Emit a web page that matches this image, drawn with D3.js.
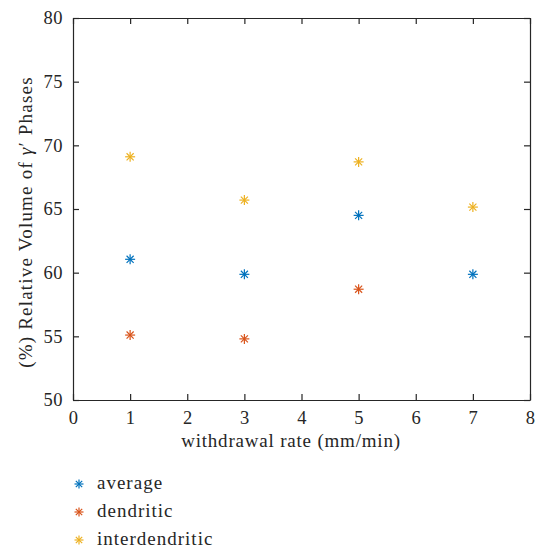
<!DOCTYPE html>
<html>
<head>
<meta charset="utf-8">
<script src="https://cdn.jsdelivr.net/npm/d3@7"></script>
<style>
  html, body { margin: 0; padding: 0; background: #fff; }
  svg { display: block; }
</style>
</head>
<body>
<svg id="chart" width="541" height="549"></svg>
<script>
// Withdrawal rate (mm/min) for each measurement
const rates = [1, 3, 5, 7];
const rateDendritic = [1, 3, 5];

// Relative volume of γ′ phases (%)
const average = [61.05, 59.87, 64.5, 59.87];
const dendritic = [55.1, 54.8, 58.7];
const interdendritic = [69.1, 65.7, 68.7, 65.15];

const xTicks = [0, 1, 2, 3, 4, 5, 6, 7, 8];
const yTicks = [50, 55, 60, 65, 70, 75, 80];

const seriesNames = ["average", "dendritic", "interdendritic"];
const seriesColors = ["#0072BD", "#D95319", "#EDB120"];

const series = [
  { name: seriesNames[0], color: seriesColors[0], xs: rates, ys: average },
  { name: seriesNames[1], color: seriesColors[1], xs: rateDendritic, ys: dendritic },
  { name: seriesNames[2], color: seriesColors[2], xs: rates, ys: interdendritic }
];

const FONT = "'Liberation Serif', 'Times New Roman', serif";
const textColor = "#262626";
const axisColor = "#262626";
const tickLen = 6;

const svg = d3.select("#chart");
const plot = { left: 73, right: 530, top: 18, bottom: 400 };

const x = d3.scaleLinear().domain([0, 8]).range([plot.left, plot.right]);
const y = d3.scaleLinear().domain([50, 80]).range([plot.bottom, plot.top]);

// Box frame with inward ticks on all four sides
const gAxes = svg.append("g");
gAxes.append("g").attr("transform", `translate(0,${plot.bottom})`)
  .call(d3.axisBottom(x).tickValues(xTicks).tickSizeInner(-tickLen).tickSizeOuter(0).tickPadding(11));
gAxes.append("g").attr("transform", `translate(0,${plot.top})`)
  .call(d3.axisTop(x).tickValues(xTicks).tickSizeInner(-tickLen).tickSizeOuter(0).tickFormat(""));
gAxes.append("g").attr("transform", `translate(${plot.left},0)`)
  .call(d3.axisLeft(y).tickValues(yTicks).tickSizeInner(-tickLen).tickSizeOuter(0).tickPadding(10));
gAxes.append("g").attr("transform", `translate(${plot.right},0)`)
  .call(d3.axisRight(y).tickValues(yTicks).tickSizeInner(-tickLen).tickSizeOuter(0).tickFormat(""));

gAxes.selectAll("g").attr("font-family", FONT).attr("font-size", 18.5);
gAxes.selectAll(".domain").attr("stroke", axisColor).attr("stroke-width", 1.2);
gAxes.selectAll(".tick line").attr("stroke", axisColor).attr("stroke-width", 1.2);
gAxes.selectAll(".tick text").attr("fill", textColor).attr("letter-spacing", 0.5);

// Asterisk marker: 8 rays (horizontal, vertical and both diagonals)
function asterisk(g, cx, cy, r, color) {
  const d = r * Math.SQRT1_2;
  const segs = [
    [cx - r, cy, cx + r, cy],
    [cx, cy - r, cx, cy + r],
    [cx - d, cy - d, cx + d, cy + d],
    [cx - d, cy + d, cx + d, cy - d]
  ];
  g.selectAll(null).data(segs).enter().append("line")
    .attr("x1", s => s[0]).attr("y1", s => s[1])
    .attr("x2", s => s[2]).attr("y2", s => s[3])
    .attr("stroke", color).attr("stroke-width", 1.2);
}

const gPts = svg.append("g");
series.forEach(s => {
  s.xs.forEach((xv, i) => {
    asterisk(gPts.append("g"), x(xv), y(s.ys[i]), 5, s.color);
  });
});

// Axis titles
svg.append("text")
  .attr("x", 291).attr("y", 447)
  .attr("text-anchor", "middle")
  .attr("font-family", FONT).attr("font-size", 19).attr("fill", textColor)
  .attr("letter-spacing", 0.8)
  .text("withdrawal rate (mm/min)");

const yt = svg.append("text")
  .attr("transform", `translate(32,222) rotate(-90)`)
  .attr("text-anchor", "middle")
  .attr("font-family", FONT).attr("font-size", 19).attr("fill", textColor)
  .attr("letter-spacing", 1.2);
yt.append("tspan").text("(%) Relative Volume of ");
yt.append("tspan").attr("font-style", "italic").text("γ");
yt.append("tspan").text("′ Phases");

// Legend below the plot
const legend = svg.append("g");
series.forEach((s, i) => {
  const ly = 489 + i * 28;
  asterisk(legend.append("g"), 79, ly - 5, 4.5, s.color);
  legend.append("text").attr("x", 97).attr("y", ly)
    .attr("font-family", FONT).attr("font-size", 19).attr("fill", textColor)
    .attr("letter-spacing", 1)
    .text(s.name);
});
</script>
</body>
</html>
